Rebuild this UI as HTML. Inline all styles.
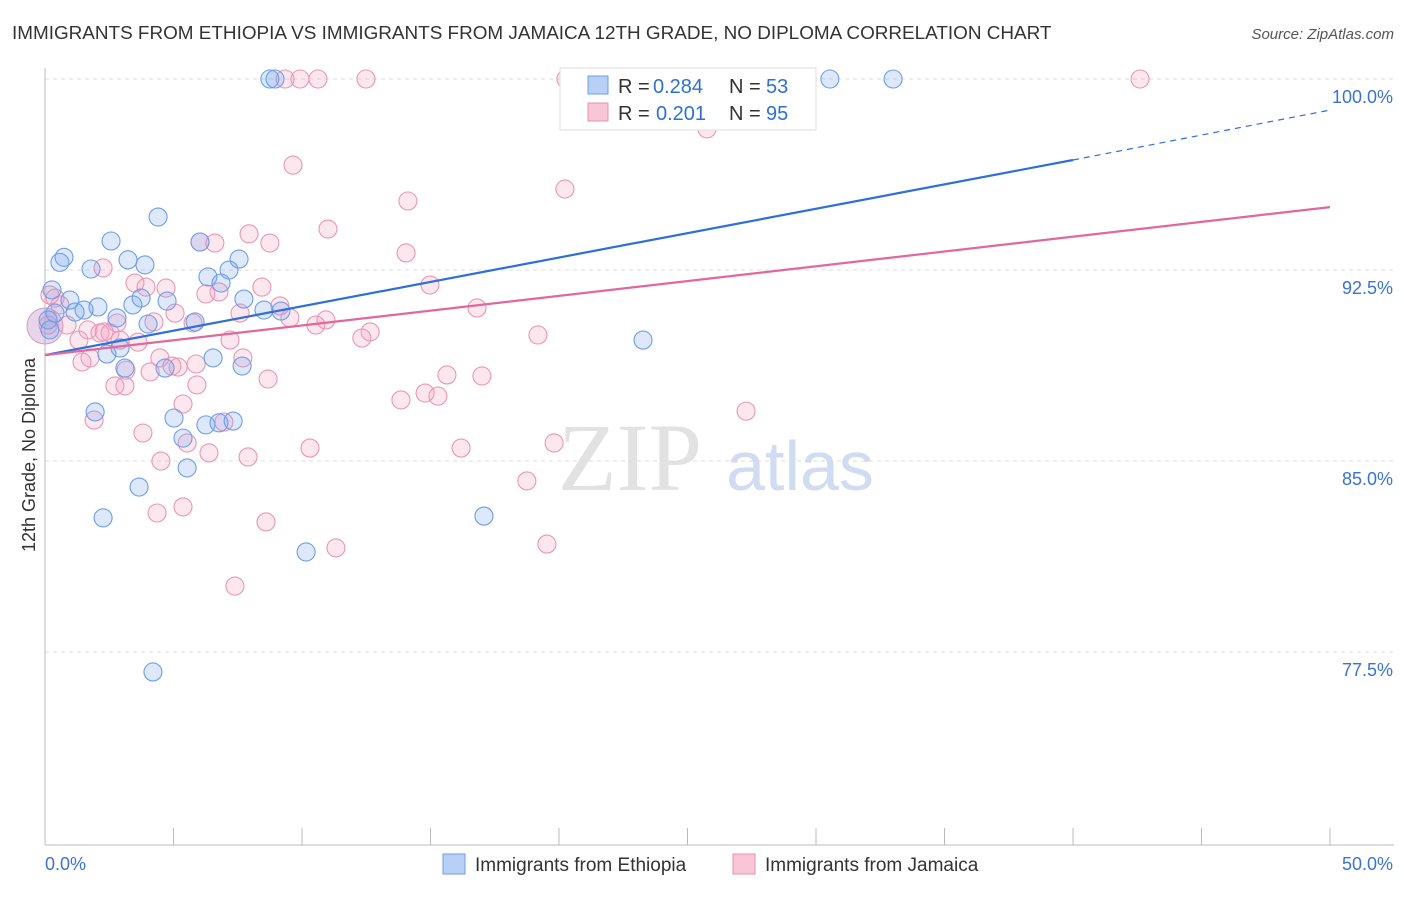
<!DOCTYPE html>
<html><head><meta charset="utf-8"><style>
body{margin:0;background:#fff;font-family:"Liberation Sans",sans-serif;}
#wrap{position:relative;width:1406px;height:892px;}
</style></head><body>
<div id="wrap">
<svg id="chart" width="1406" height="892">
<text x="12" y="39" font-size="18.9" fill="#333">IMMIGRANTS FROM ETHIOPIA VS IMMIGRANTS FROM JAMAICA 12TH GRADE, NO DIPLOMA CORRELATION CHART</text>
<text x="1394" y="39" font-size="15" fill="#555" font-style="italic" text-anchor="end">Source: ZipAtlas.com</text>
<text x="630" y="490" font-size="96" fill="#e2e2e2" font-family="Liberation Serif" text-anchor="middle">ZIP</text>
<text x="800" y="490" font-size="70" fill="#cfdcf2" text-anchor="middle">atlas</text>
<text transform="translate(35,455) rotate(-90)" font-size="18" fill="#333" text-anchor="middle">12th Grade, No Diploma</text>
<g id="grid"></g><g id="pts"></g><g id="lines"></g>
<g>
<rect x="560" y="68" width="256" height="62" fill="#fff" stroke="#ddd"/>
<rect x="588" y="76" width="20" height="18" fill="#b8d0f5" stroke="#6d9eea"/>
<rect x="588" y="103" width="20" height="18" fill="#f8c6d6" stroke="#e890ae"/>
<g font-size="20">
<text x="618" y="93" fill="#333">R =</text><text x="653" y="93" fill="#2e6fd8">0.284</text>
<text x="729" y="93" fill="#333">N =</text><text x="766" y="93" fill="#2e6fd8">53</text></g>
<g font-size="20">
<text x="618" y="120" fill="#333">R =</text><text x="656" y="120" fill="#2e6fd8">0.201</text>
<text x="729" y="120" fill="#333">N =</text><text x="766" y="120" fill="#2e6fd8">95</text></g>
</g>
<rect x="443" y="854" width="22" height="20" fill="#b8d0f5" stroke="#6d9eea"/>
<text x="475" y="871" font-size="19" fill="#333">Immigrants from Ethiopia</text>
<rect x="733" y="854" width="22" height="20" fill="#f8c6d6" stroke="#e890ae"/>
<text x="765" y="871" font-size="19" fill="#333">Immigrants from Jamaica</text>
</svg></div>
<script>
const yTicks=[100,92.5,85,77.5];
const xTickLabels=["0.0%","50.0%"];
const blueX=[8.75,8.95,30.54,33.0,4.40,2.57,0.74,0.58,3.23,3.89,1.79,6.03,7.55,7.16,6.34,6.85,0.27,0.97,2.06,1.52,1.17,0.39,3.74,3.42,4.75,7.74,8.52,9.18,2.80,4.01,5.84,23.27,2.92,2.41,6.54,7.67,3.11,4.67,1.95,5.02,6.26,6.77,7.32,5.37,5.53,3.66,2.26,17.08,10.16,4.20,0.12,0.19];
const blueY=[100,100,100,100,94.58,93.64,93.0,92.8,92.9,92.7,92.54,93.6,92.93,92.5,92.23,91.99,91.72,91.32,91.05,90.93,90.85,90.81,91.40,91.13,91.28,91.36,90.93,90.89,90.62,90.38,90.46,89.75,89.44,89.2,89.05,88.73,88.65,88.65,86.93,86.69,86.42,86.5,86.57,85.9,84.73,83.98,82.77,82.84,81.43,76.72,90.54,90.15];
const pinkX=[9.34,9.92,10.62,12.49,20.27,42.61,25.76,9.65,20.23,14.12,11.01,7.94,6.03,6.61,8.75,14.05,2.26,3.50,4.71,3.93,6.26,6.77,8.44,14.98,0.39,0.58,9.14,16.81,5.06,7.59,9.53,10.93,10.54,0.86,1.67,2.14,2.53,2.80,4.24,5.76,19.18,12.65,12.33,7.2,3.62,1.32,2.92,1.75,4.47,7.7,1.44,4.94,5.18,3.15,5.88,4.09,15.64,17.0,8.68,2.72,3.11,5.91,14.79,15.29,13.85,5.37,1.91,6.96,3.81,5.53,6.38,4.51,7.9,19.81,16.19,10.31,18.75,4.36,5.37,8.6,11.32,19.53,7.39,27.28,0.19,0.12,2.3];
const pinkY=[100,100,100,100,100,100,98.04,96.62,95.68,95.21,94.11,93.92,93.6,93.56,93.56,93.17,92.58,91.99,91.79,91.83,91.56,91.64,91.83,91.91,91.40,91.13,91.09,91.01,90.81,90.81,90.62,90.54,90.34,90.34,90.15,90.03,90.03,90.42,90.46,90.42,89.95,90.07,89.83,89.75,89.67,89.75,89.75,89.05,89.05,89.05,88.89,88.73,88.69,88.57,88.81,88.5,88.38,88.34,88.22,87.95,87.95,87.99,87.67,87.55,87.4,87.24,86.61,86.53,86.1,85.71,85.32,85.0,85.16,85.71,85.51,85.51,84.22,82.96,83.2,82.61,81.59,81.74,80.09,86.96,91.52,90.34,90.07];
const blueTrend=[89.16,96.82,98.78]; // at x=0, 40, 50
const pinkTrend=[89.16,94.97]; // at x=0, 50
const NS='http://www.w3.org/2000/svg';
const sx=v=>45+v*25.7, sy=v=>79+(100-v)*25.47;
function mk(t,a,p){const e=document.createElementNS(NS,t);for(const k in a)e.setAttribute(k,a[k]);p.appendChild(e);return e;}
const grid=document.getElementById('grid');
yTicks.forEach(v=>{
 const l=mk('line',{x1:45,x2:1394,y1:sy(v),y2:sy(v),stroke:'#ddd','stroke-dasharray':'4,4'},grid);
 
 
 const t=mk('text',{x:1393,y:sy(v)+24,'font-size':18,fill:'#3a72d8','text-anchor':'end'},grid);
 t.textContent=v.toFixed(1)+'%';
 
 
});
mk('line',{x1:45,x2:45,y1:68,y2:845,stroke:'#bbb'},grid);
mk('line',{x1:45,x2:1394,y1:845,y2:845,stroke:'#bbb'},grid);
for(let i=0;i<=10;i++){mk('line',{x1:sx(i*5),x2:sx(i*5),y1:828,y2:845,stroke:'#bbb'},grid);}
xTickLabels.forEach((s,i)=>{const t=mk('text',{x:i?1393:45,y:870,'font-size':18,fill:'#3a72d8','text-anchor':i?'end':'start'},grid);t.textContent=s;
 
 });
const pts=document.getElementById('pts');
const big=mk('circle',{cx:sx(0),cy:sy(90.3),r:18,fill:'rgba(200,150,200,0.4)',stroke:'#c9a0c8'},pts);


pinkX.forEach((x,i)=>{const c=mk('circle',{cx:sx(x),cy:sy(pinkY[i]),r:9,fill:'rgba(244,160,190,0.25)',stroke:'#eb96b4','stroke-width':1.1},pts);
 
 });
blueX.forEach((x,i)=>{const c=mk('circle',{cx:sx(x),cy:sy(blueY[i]),r:9,fill:'rgba(120,165,235,0.25)',stroke:'#6d9eea','stroke-width':1.1},pts);
 
 });
const lines=document.getElementById('lines');
const b1=mk('line',{x1:sx(0),y1:sy(blueTrend[0]),x2:sx(40),y2:sy(blueTrend[1]),stroke:'#2e6fd8','stroke-width':2.2},lines);


const b2=mk('line',{x1:sx(40),y1:sy(blueTrend[1]),x2:sx(50),y2:sy(blueTrend[2]),stroke:'#2e6fd8','stroke-width':1.2,'stroke-dasharray':'6,5'},lines);


const p1=mk('line',{x1:sx(0),y1:sy(pinkTrend[0]),x2:sx(50),y2:sy(pinkTrend[1]),stroke:'#e2679a','stroke-width':2.2},lines);


</script>
</body></html>
